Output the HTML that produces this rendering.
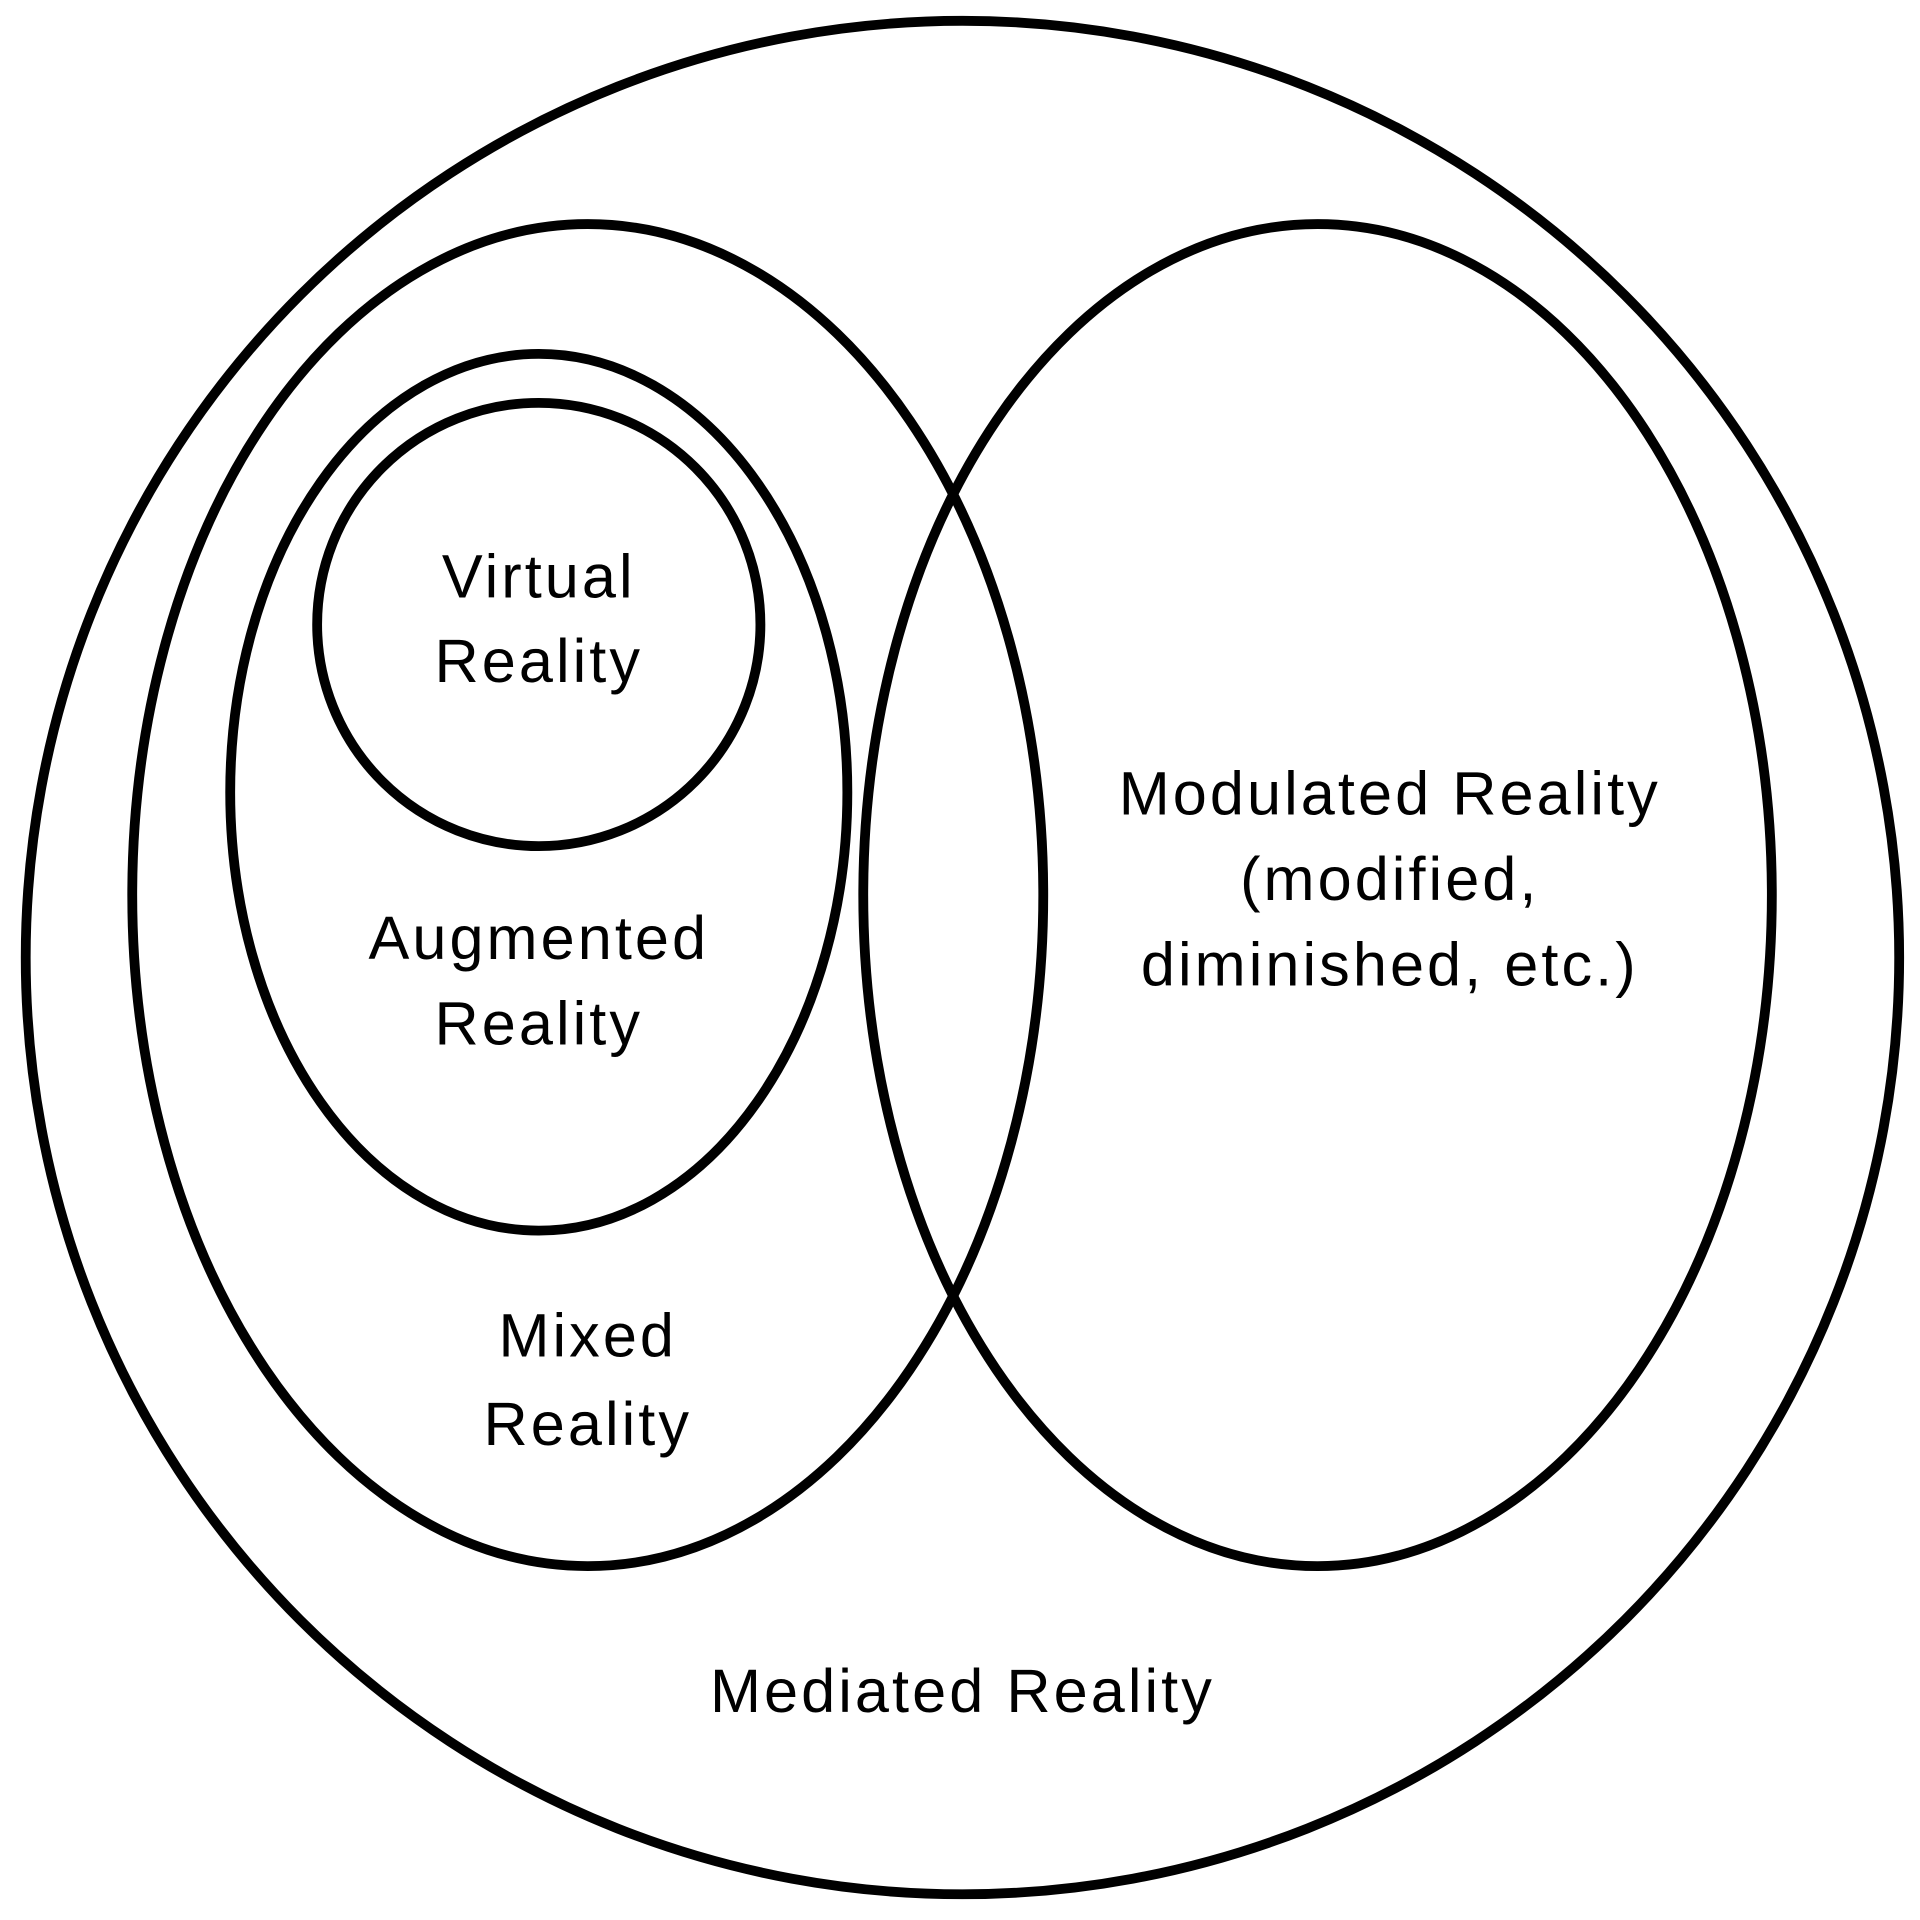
<!DOCTYPE html>
<html>
<head>
<meta charset="utf-8">
<style>
html,body{margin:0;padding:0;background:#fff;}
svg{display:block;}
text{font-family:"Liberation Sans",sans-serif;font-size:50px;letter-spacing:2.5px;fill:#000;text-anchor:middle;}
</style>
</head>
<body>
<svg width="1920" height="1920" viewBox="0 0 1568 1568" xmlns="http://www.w3.org/2000/svg">
<g fill="none" stroke="#000" stroke-width="8">
<ellipse cx="786" cy="782" rx="765" ry="765"/>
<ellipse cx="480" cy="731" rx="372" ry="548"/>
<ellipse cx="1076" cy="731" rx="371" ry="548"/>
<ellipse cx="440" cy="647" rx="252" ry="358"/>
<circle cx="440" cy="510" r="181"/>
</g>
<text x="440" y="488">Virtual</text>
<text x="440" y="557">Reality</text>
<text x="440" y="783">Augmented</text>
<text x="440" y="853">Reality</text>
<text x="480" y="1108">Mixed</text>
<text x="480" y="1180">Reality</text>
<text x="1135" y="665">Modulated Reality</text>
<text x="1135" y="735">(modified,</text>
<text x="1135" y="805">diminished, etc.)</text>
<text x="786" y="1398">Mediated Reality</text>
</svg>
</body>
</html>
